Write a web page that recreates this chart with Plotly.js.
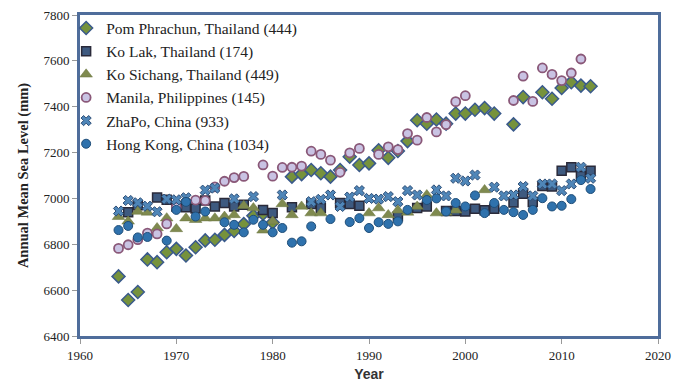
<!DOCTYPE html>
<html>
<head>
<meta charset="utf-8">
<script src="https://cdn.plot.ly/plotly-3.0.1.min.js"></script>
<style>html,body{margin:0;padding:0;background:#fff;}#chart{width:684px;height:385px;}</style>
</head>
<body>
<div id="chart"></div>
<script>
var seriesNames = ["Pom Phrachun, Thailand (444)", "Ko Lak, Thailand (174)", "Ko Sichang, Thailand (449)", "Manila, Philippines (145)", "ZhaPo, China (933)", "Hong Kong, China (1034)"];

var pomYears = [1964,1965,1966,1967,1968,1969,1970,1971,1972,1973,1974,1975,1976,1977,1978,1979,1980,1982,1983,1984,1985,1986,1987,1988,1989,1990,1991,1992,1993,1994,1995,1996,1997,1998,1999,2000,2001,2002,2003,2005,2006,2008,2009,2010,2011,2012,2013];
var pomValues = [6660,6557,6592,6734,6722,6765,6780,6751,6787,6817,6820,6841,6858,6888,6924,6933,6895,7095,7106,7124,7110,7095,7124,7182,7146,7153,7210,7177,7207,7250,7341,7326,7344,7326,7370,7370,7387,7394,7370,7323,7442,7463,7435,7482,7507,7492,7489];

var kolakYears = [1965,1966,1968,1969,1970,1971,1972,1973,1974,1975,1976,1977,1979,1980,1982,1984,1985,1987,1988,1989,1993,1995,1996,1998,1999,2000,2001,2002,2003,2005,2006,2007,2008,2009,2010,2011,2012,2013];
var kolakValues = [6940,6970,7004,6994,6965,6962,6956,6991,6965,6980,6965,6972,6950,6936,6962,6976,6958,6980,6976,6968,6922,6958,6965,6945,6945,6943,6955,6948,6955,6982,7020,6984,7054,7052,7121,7136,7098,7121];

var sichangYears = [1964,1965,1966,1967,1968,1969,1970,1971,1972,1973,1974,1975,1976,1977,1978,1979,1980,1981,1982,1983,1984,1985,1990,1991,1992,1993,1994,1995,1996,1997,1998,1999,2002];
var sichangValues = [6920,6900,6943,6939,6871,6914,6867,6914,6907,6914,6914,6921,6928,6968,6958,6861,6900,6976,6928,6965,6936,6936,6936,6958,6928,6948,6939,6965,7015,6936,6939,6948,7037];

var manilaYears = [1964,1965,1966,1967,1968,1969,1970,1972,1973,1974,1975,1976,1977,1979,1980,1981,1982,1983,1984,1985,1986,1987,1988,1989,1991,1992,1993,1994,1995,1996,1997,1998,1999,2000,2005,2006,2007,2008,2009,2010,2011,2012];
var manilaValues = [6782,6798,6820,6849,6845,6889,6962,6993,6990,7050,7075,7091,7096,7146,7097,7135,7136,7141,7206,7192,7167,7114,7199,7218,7192,7225,7213,7283,7254,7353,7290,7322,7422,7448,7427,7533,7423,7569,7541,7514,7547,7608];

var zhapoYears = [1964,1965,1966,1967,1968,1969,1970,1971,1973,1974,1976,1978,1981,1984,1985,1986,1987,1988,1989,1990,1991,1992,1993,1994,1995,1997,1998,1999,2000,2001,2003,2004,2005,2006,2007,2008,2009,2010,2011,2012,2013];
var zhapoValues = [6945,6991,6981,6966,6942,6997,6994,7003,7036,7045,6998,7008,7015,6986,6996,7015,6965,7006,7034,7000,6997,7008,6986,7034,7015,7037,7011,7088,7076,7102,7049,7011,7015,7052,7011,7063,7063,7034,7063,7136,7088];

var hkYears = [1964,1965,1966,1967,1969,1970,1971,1972,1973,1975,1976,1977,1978,1979,1980,1981,1982,1983,1984,1986,1988,1989,1990,1991,1992,1993,1994,1996,1997,1998,1999,2000,2001,2002,2003,2004,2005,2006,2007,2008,2009,2010,2011,2012,2013];
var hkValues = [6862,6880,6830,6832,6816,6950,6985,6921,6943,6896,6885,6852,6907,6885,6852,6871,6807,6813,6878,6910,6897,6914,6871,6896,6889,6900,6950,6993,7000,6943,6980,6965,7013,6936,6980,6950,6940,6928,6950,7001,6965,6968,6997,7080,7041];

var xTickVals = [1960,1970,1980,1990,2000,2010,2020];
var yTickVals = [6400,6600,6800,7000,7200,7400,7600,7800];

function mk(i, xs, ys, marker) {
  return {type:'scatter', mode:'markers', x:xs, y:ys, name:seriesNames[i],
    legendgroup:'g'+i, marker:marker, hoverinfo:'x+y'};
}

var traces = [
  mk(0, pomYears, pomValues, {symbol:'diamond', size:10, color:'#76923c', line:{color:'#3a5a8c', width:1.5}}),
  mk(1, kolakYears, kolakValues, {symbol:'square', size:9, color:'#3e5a80', line:{color:'#2a2a3a', width:1.5}}),
  mk(2, sichangYears, sichangValues, {symbol:'triangle-up', size:11, color:'#7f8a4f', line:{color:'#6b7540', width:0.5}}),
  mk(3, manilaYears, manilaValues, {symbol:'circle', size:9, color:'#c9c3e3', line:{color:'#8a5878', width:1.8}}),
  mk(4, zhapoYears, zhapoValues, {symbol:'x', size:9, color:'#4f86b8', line:{color:'#2e4f78', width:1}}),
  mk(5, hkYears, hkValues, {symbol:'circle', size:9, color:'#2f72ad', line:{color:'#1f4e79', width:1}})
];

var frame = '#4f6d9b';
var serif = 'Liberation Serif, Times New Roman, serif';
var layout = {
  width:684, height:385,
  margin:{l:80, r:26, t:14, b:49},
  paper_bgcolor:'#ffffff', plot_bgcolor:'#ffffff',
  showlegend:true,
  legend:{x:-0.024, y:1.008, xanchor:'left', yanchor:'top', bgcolor:'rgba(0,0,0,0)',
    font:{family:serif, size:15.5, color:'#222'},
    traceorder:'normal', tracegroupgap:2, itemwidth:30},
  xaxis:{range:[1960,2020], tickvals:xTickVals, ticktext:xTickVals.map(String),
    showgrid:false, zeroline:false, showline:true, mirror:true, linecolor:frame, linewidth:3,
    ticks:'outside', ticklen:5, tickcolor:'#999', tickwidth:1,
    tickfont:{family:serif, size:13, color:'#222'},
    title:{text:'Year', font:{family:'Liberation Sans, Arial, sans-serif', size:14, color:'#333', weight:'bold'}, standoff:8}},
  yaxis:{range:[6400,7800], tickvals:yTickVals, ticktext:yTickVals.map(String),
    showgrid:false, zeroline:false, showline:true, mirror:true, linecolor:frame, linewidth:3,
    ticks:'outside', ticklen:5, tickcolor:'#999', tickwidth:1,
    tickfont:{family:serif, size:13, color:'#222'},
    title:{text:'Annual Mean Sea Level (mm)', font:{family:serif, size:14.5, color:'#222', weight:'bold'}, standoff:12}}
};

Plotly.newPlot('chart', traces, layout, {displayModeBar:false, staticPlot:true});
</script>
</body>
</html>
